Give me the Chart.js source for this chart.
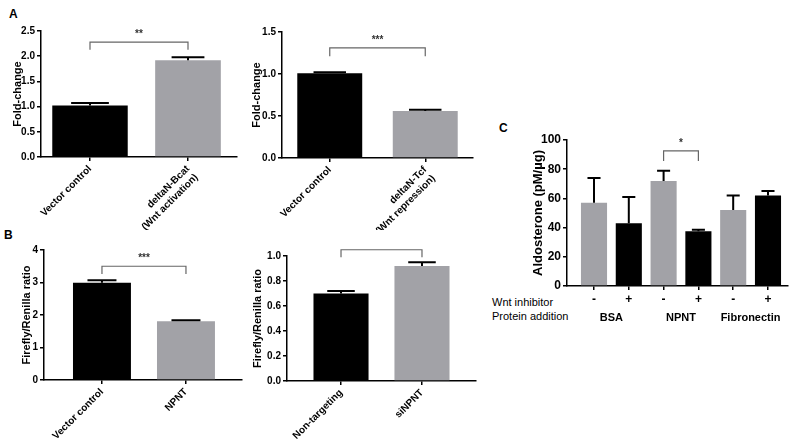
<!DOCTYPE html>
<html>
<head>
<meta charset="utf-8">
<script src="https://cdn.jsdelivr.net/npm/chart.js@4"></script>
<style>
  body { margin: 0; background: #fff; width: 800px; height: 446px; position: relative; overflow: hidden; font-family: "Liberation Sans", Arial, sans-serif; }
  canvas { position: absolute; }
  .tag { position: absolute; font-weight: bold; font-size: 12px; color: #000; }
  .row { position: absolute; font-size: 11px; color: #000; }
</style>
</head>
<body>
<div class="tag" style="left:9px;top:7px">A</div>
<div class="tag" style="left:4px;top:228px">B</div>
<div class="tag" style="left:499px;top:121px">C</div>
<div class="row" style="left:492px;top:296px">Wnt inhibitor</div>
<div class="row" style="left:492px;top:310px">Protein addition</div>
<canvas id="a1"></canvas>
<canvas id="a2"></canvas>
<canvas id="b1"></canvas>
<canvas id="b2"></canvas>
<canvas id="c"></canvas>
<script>
// A, left: Wnt activation
const a1Labels = [['Vector control'], ['deltaN-Bcat', '(Wnt activation)']];
const a1Values = [1.02, 1.92];
const a1Errors = [1.07, 1.98];
const a1Bracket = [0, 1, 2.28, 2.13, '**'];

// A, right: Wnt repression
const a2Labels = [['Vector control'], ['deltaN-Tcf', '(Wnt repression)']];
const a2Values = [1.01, 0.56];
const a2Errors = [1.02, 0.575];
const a2Bracket = [0, 1, 1.31, 1.21, '***'];

// B, left
const b1Labels = ['Vector control', 'NPNT'];
const b1Values = [2.99, 1.81];
const b1Errors = [3.07, 1.84];
const b1Bracket = [0, 1, 3.5, 3.26, '***'];

// B, right
const b2Labels = ['Non-targeting', 'siNPNT'];
const b2Values = [0.70, 0.92];
const b2Errors = [0.72, 0.95];
const b2Bracket = [0, 1, 1.05, 0.99, ''];

// C
const cInhibitor = ['-', '+', '-', '+', '-', '+'];
const cProteins = ['BSA', 'NPNT', 'Fibronectin'];
const cValues = [57, 43, 72, 37.5, 52, 62];
const cErrors = [74, 61, 79, 38.5, 62, 65];
const cBracket = [2, 3, 92.5, 85.6, '*'];

const BLACK = '#000000';
const GRAY = '#a2a2a7';

Chart.defaults.font.family = '"Liberation Sans", Arial, sans-serif';
Chart.defaults.color = '#000';

// upper error bar with a cap half as wide as the bar
const errorBars = {
  id: 'errorBars',
  afterDatasetsDraw(chart) {
    const ctx = chart.ctx;
    const y = chart.scales.y;
    chart.data.datasets.forEach((ds, i) => {
      chart.getDatasetMeta(i).data.forEach((bar, j) => {
        const top = y.getPixelForValue(ds.errTop[j]);
        const half = bar.width / 4;
        ctx.save();
        ctx.strokeStyle = '#000';
        ctx.lineWidth = 2;
        ctx.beginPath();
        ctx.moveTo(bar.x, bar.y);
        ctx.lineTo(bar.x, top);
        ctx.moveTo(bar.x - half, top);
        ctx.lineTo(bar.x + half, top);
        ctx.stroke();
        ctx.restore();
      });
    });
  }
};

// significance bracket: [from, to, top, foot, stars]
const bracket = {
  id: 'bracket',
  afterDraw(chart, args, opts) {
    const b = opts.data;
    if (!b) return;
    const ctx = chart.ctx;
    const x = chart.scales.x, y = chart.scales.y;
    const x1 = x.getPixelForValue(b[0]), x2 = x.getPixelForValue(b[1]);
    const yt = y.getPixelForValue(b[2]), yf = y.getPixelForValue(b[3]);
    ctx.save();
    ctx.strokeStyle = '#666';
    ctx.lineWidth = 1.2;
    ctx.beginPath();
    ctx.moveTo(x1, yf);
    ctx.lineTo(x1, yt);
    ctx.lineTo(x2, yt);
    ctx.lineTo(x2, yf);
    ctx.stroke();
    ctx.fillStyle = '#333';
    ctx.font = 'bold 10px "Liberation Sans", Arial, sans-serif';
    ctx.textAlign = 'center';
    ctx.textBaseline = 'middle';
    ctx.fillText(b[4], (x1 + x2) / 2, yt - 8);
    ctx.restore();
  }
};

function panel(id, o) {
  const [left, top, w, h] = o.box;
  const [aL, aT, aR, aB] = o.area;
  const cv = document.getElementById(id);
  cv.width = w; cv.height = h;
  cv.style.left = left + 'px'; cv.style.top = top + 'px';

  const datasets = o.values.map((v, i) => ({
    data: [{ x: i, y: v }],
    errTop: [o.errors[i]],
    backgroundColor: o.colors[i],
    borderWidth: 0,
    barPercentage: o.widths[i],
    categoryPercentage: 1,
    grouped: false
  }));

  const scales = {
    x: {
      type: 'linear',
      offset: false,
      bounds: 'data',
      min: o.xMin, max: o.xMax,
      afterBuildTicks: s => { s.ticks = o.labels.map((_, i) => ({ value: i })); },
      ticks: {
        callback: v => o.labels[v],
        minRotation: o.rot, maxRotation: o.rot, autoSkip: false,
        font: o.xFont, color: '#000', padding: 2
      },
      grid: { offset: false, drawOnChartArea: false, tickLength: 4, color: '#000', lineWidth: 1.5 },
      border: { color: '#000', width: 1.5 },
      afterFit: s => { s.height = o.xHeight; }
    },
    y: {
      min: 0, max: o.yMax,
      ticks: { stepSize: o.yStep, callback: v => v.toFixed(o.yDec), font: o.yFont, color: '#000', padding: 2 },
      grid: { drawOnChartArea: false, tickLength: 4, color: '#000', lineWidth: 1.5 },
      border: { color: '#000', width: 1.5 },
      title: { display: true, text: o.yTitle, font: o.titleFont, color: '#000', padding: { top: o.titleX - left - o.titleFont.size * 0.6, bottom: 0 } },
      afterFit: s => { s.width = aL - left; }
    }
  };
  if (o.groups) {
    scales.x2 = {
      type: 'linear', position: 'bottom',
      offset: false, bounds: 'data',
      min: o.xMin, max: o.xMax,
      afterBuildTicks: s => { s.ticks = o.groups.map((_, k) => ({ value: 2 * k + 0.5 })); },
      ticks: { callback: v => o.groups[(v - 0.5) / 2], maxRotation: 0, minRotation: 0, autoSkip: false, font: { size: 11, weight: 'bold' }, color: '#000', padding: 0 },
      grid: { display: false },
      border: { display: false },
      afterFit: s => { s.height = top + h - aB - o.xHeight; }
    };
  }

  new Chart(cv, {
    type: 'bar',
    data: { datasets },
    options: {
      responsive: false,
      animation: false,
      layout: { padding: { left: 0, top: aT - top, right: left + w - aR, bottom: 0 } },
      plugins: { legend: { display: false }, tooltip: { enabled: false }, bracket: { data: o.bracket } },
      scales
    },
    plugins: [errorBars, bracket]
  });
}

const tickSmall = { size: 10, weight: 'bold' };
const titleSmall = { size: 11, weight: 'bold' };

panel('a1', {
  labels: a1Labels, values: a1Values, errors: a1Errors, bracket: a1Bracket,
  colors: [BLACK, GRAY], widths: [0.77, 0.67],
  box: [0, 0, 250, 230], area: [41, 31, 237, 157], titleX: 18,
  xMin: -0.5, xMax: 1.5, xHeight: 73, rot: 45,
  yMax: 2.5, yStep: 0.5, yDec: 1, yTitle: 'Fold-change',
  xFont: tickSmall, yFont: tickSmall, titleFont: titleSmall
});

panel('a2', {
  labels: a2Labels, values: a2Values, errors: a2Errors, bracket: a2Bracket,
  colors: [BLACK, GRAY], widths: [0.68, 0.68],
  box: [250, 0, 240, 230], area: [282, 32, 473, 158], titleX: 257,
  xMin: -0.5, xMax: 1.5, xHeight: 72, rot: 45,
  yMax: 1.5, yStep: 0.5, yDec: 1, yTitle: 'Fold-change',
  xFont: tickSmall, yFont: tickSmall, titleFont: titleSmall
});

panel('b1', {
  labels: b1Labels, values: b1Values, errors: b1Errors, bracket: b1Bracket,
  colors: [BLACK, GRAY], widths: [0.69, 0.69],
  box: [0, 215, 250, 231], area: [44, 250, 242, 380], titleX: 27,
  xMin: -0.69, xMax: 1.667, xHeight: 66, rot: 45,
  yMax: 4, yStep: 1, yDec: 0, yTitle: 'Firefly/Renilla ratio',
  xFont: tickSmall, yFont: tickSmall, titleFont: titleSmall
});

panel('b2', {
  labels: b2Labels, values: b2Values, errors: b2Errors, bracket: b2Bracket,
  colors: [BLACK, GRAY], widths: [0.68, 0.68],
  box: [250, 215, 240, 231], area: [287, 256, 476, 381], titleX: 258,
  xMin: -0.667, xMax: 1.667, xHeight: 65, rot: 45,
  yMax: 1.0, yStep: 0.2, yDec: 1, yTitle: 'Firefly/Renilla ratio',
  xFont: tickSmall, yFont: tickSmall, titleFont: titleSmall
});

panel('c', {
  labels: cInhibitor, groups: cProteins, values: cValues, errors: cErrors, bracket: cBracket,
  colors: [GRAY, BLACK, GRAY, BLACK, GRAY, BLACK], widths: [0.75, 0.75, 0.75, 0.75, 0.75, 0.75],
  box: [490, 110, 310, 230], area: [567, 140, 788, 286], titleX: 538,
  xMin: -0.776, xMax: 5.575, xHeight: 17, rot: 0,
  yMax: 100, yStep: 20, yDec: 0, yTitle: 'Aldosterone (pM/µg)',
  xFont: { size: 12, weight: 'bold' }, yFont: { size: 12, weight: 'bold' }, titleFont: { size: 13, weight: 'bold' }
});
</script>
</body>
</html>
